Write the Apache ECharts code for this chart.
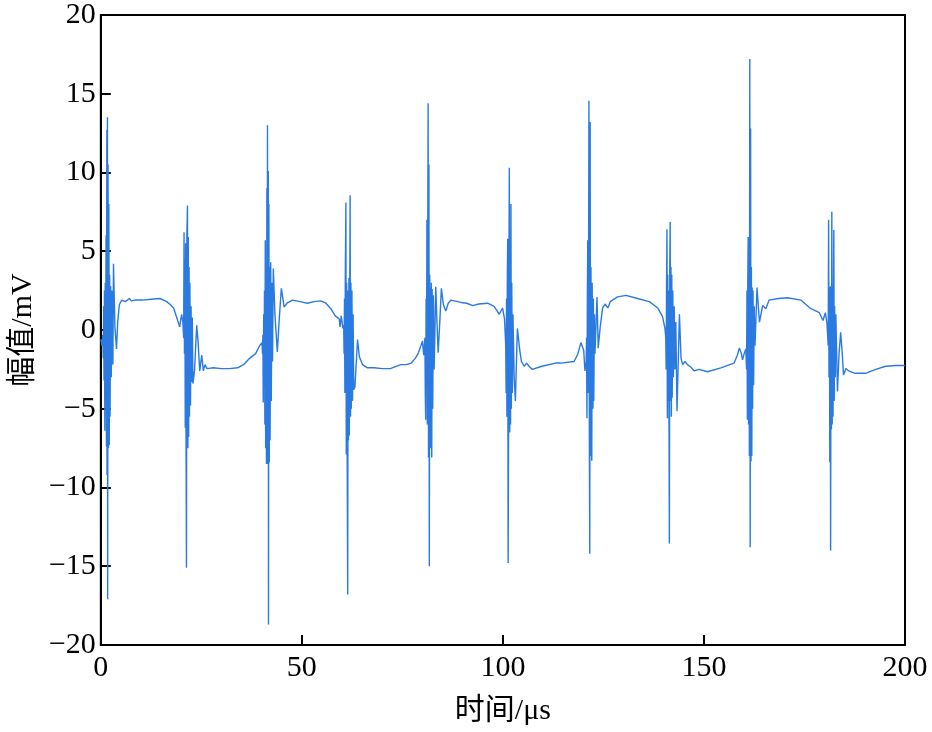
<!DOCTYPE html>
<html><head><meta charset="utf-8">
<script src="https://cdn.jsdelivr.net/npm/echarts@6/dist/echarts.min.js"></script>
<style>html,body{margin:0;padding:0;background:#fff}#c{width:932px;height:732px}</style>
</head><body><div id="c"></div>
<script>
// Axis ticks
const xTicks = [0, 50, 100, 150, 200];
const yTicks = [-20, -15, -10, -5, 0, 5, 10, 15, 20];
const xName = '时间/μs';
const yName = '幅值/mV';

// Waveform segments: [time µs, amplitude mV]
const seg01 = [[0,-0.6],[0.3,-1.0],[0.5,-0.3],[0.6,-1.8],[0.7,1.5],[0.8,-3.2],[0.9,2.5],[1.0,-6.4],[1.1,3.0],[1.2,-4.5],[1.3,6.0],[1.4,-7.4],[1.5,12.7],[1.55,-9.2],[1.65,13.5],[1.7,-17.1],[1.8,10.5],[1.9,-7.5],[2.0,8.0],[2.1,-7.3],[2.2,3.5],[2.3,-5.5],[2.45,2.8],[2.6,-3.0],[2.75,2.5],[2.9,-1.5],[3.0,-2.2],[3.15,4.2],[3.35,2.0],[3.5,0.2],[3.9,-1.2],[4.2,0.5],[4.6,1.6],[5.2,1.9],[6.1,1.8],[7.1,2.0],[7.6,1.85],[8.5,1.9],[10.4,1.9],[12.5,1.95],[14.7,2.0],[16.4,1.8],[17.3,1.6],[18.1,1.4],[19.0,0.7],[19.6,0.2],[20.1,1.0],[20.4,0.5]];
const seg02 = [[20.6,-0.5],[20.7,6.2],[20.8,-1.5],[20.9,4.5],[21.0,-6.2],[21.1,5.5],[21.2,-7.0],[21.3,-15.1],[21.4,6.0],[21.55,7.9],[21.65,-7.5],[21.75,5.9],[21.85,-6.8],[21.95,4.0],[22.05,-5.5],[22.15,3.0],[22.3,-4.8],[22.45,1.5],[22.6,-3.3],[22.75,0.8],[22.9,-3.4],[23.3,-2.6],[23.85,0.3],[24.2,-0.8],[24.6,-2.6],[25.1,-1.6],[25.5,-2.6],[25.9,-2.2],[26.4,-2.45],[28,-2.4],[30,-2.45],[32,-2.45],[34,-2.4],[35.5,-2.2],[37,-1.8],[38.5,-1.5],[39.5,-1.0],[40.1,-0.8]];
const seg03 = [[40.2,-1.5],[40.3,-0.3],[40.4,-4.6],[40.5,1.0],[40.6,-2.5],[40.7,2.5],[40.8,-6.0],[40.9,5.7],[41.0,-7.5],[41.1,3.0],[41.2,-8.5],[41.3,9.0],[41.4,-6.0],[41.45,13.0],[41.55,-8.5],[41.65,10.1],[41.7,-18.7],[41.8,8.0],[41.9,-8.4],[42.0,4.0],[42.1,-7.0],[42.25,4.3],[42.4,-4.5],[42.55,3.0],[42.7,-2.0],[42.9,3.9],[43.3,1.0],[43.9,-1.4],[44.4,0.8],[44.9,2.65],[45.6,1.45],[46.3,1.7],[47.7,1.9],[49.5,1.8],[51.4,1.7],[53,1.8],[54.7,1.85],[56,1.7],[57.2,1.35],[58.3,0.9],[59.3,0.7],[59.5,0.2],[59.8,0.9],[60.2,0.1],[60.4,0.3]];
const seg04 = [[60.5,-1.5],[60.6,2.0],[60.7,-4.0],[60.8,3.3],[60.95,8.1],[61.05,-7.9],[61.15,3.0],[61.25,-6.5],[61.4,-16.8],[61.5,2.5],[61.6,-7.0],[61.7,3.3],[61.8,-6.7],[61.9,2.0],[62.0,8.55],[62.1,-5.5],[62.2,3.0],[62.3,-5.0],[62.45,2.5],[62.6,-4.5],[62.75,1.0],[62.9,-3.8],[63.2,-3.6],[63.85,-0.6],[64.3,-1.7],[65.1,-2.2],[66.3,-2.4],[68,-2.4],[70,-2.45],[72,-2.45],[74.6,-2.2],[76,-2.2],[77.2,-2.1],[78.2,-1.8],[78.9,-1.5],[79.6,-1.0],[80.0,-0.7],[80.3,-1.6]];
const seg05 = [[80.6,-0.5],[80.7,-4.2],[80.8,-5.7],[80.9,2.0],[81.0,-3.0],[81.1,7.0],[81.2,-6.0],[81.3,5.0],[81.4,14.4],[81.5,-8.1],[81.6,10.5],[81.7,-15.0],[81.8,3.5],[81.9,-7.0],[82.0,2.7],[82.1,-7.5],[82.2,3.0],[82.3,-8.1],[82.4,2.6],[82.55,-5.0],[82.7,2.2],[82.9,-2.5],[83.3,2.75],[83.6,0.5],[83.9,-1.45],[84.3,0.5],[84.7,2.65],[85.2,1.6],[85.8,1.2],[86.4,1.7],[87.1,1.9],[89.6,1.75],[91,1.7],[92.5,1.55],[94,1.65],[96.2,1.7],[97.8,1.5],[99.1,1.0],[99.9,1.4],[100.4,0.7]];
const seg06 = [[100.7,-1.0],[100.8,-4.0],[100.9,2.0],[101.0,-5.5],[101.1,3.5],[101.2,5.8],[101.3,-14.8],[101.4,-7.0],[101.5,4.0],[101.6,10.3],[101.7,-6.5],[101.8,4.5],[101.9,-6.0],[102.0,8.0],[102.1,-5.0],[102.2,3.0],[102.35,-4.0],[102.5,1.0],[102.8,-3.0],[103.1,-4.5],[103.6,0.1],[103.9,0.1],[104.2,-1.3],[104.6,-2.0],[105.3,-2.3],[105.9,-2.1],[106.5,-2.3],[107.3,-2.5],[109.7,-2.3],[113.1,-2.1],[114.4,-2.1],[117.7,-2.0],[118.6,-1.55],[119.4,-0.8],[120.1,-1.3],[120.4,-2.6]];
const seg07 = [[120.7,-2.0],[120.8,-0.5],[120.9,-5.6],[121.0,2.0],[121.1,5.7],[121.2,-4.0],[121.3,3.0],[121.4,14.55],[121.5,-7.0],[121.6,-14.2],[121.7,13.2],[121.8,-8.0],[121.9,4.0],[122.0,-6.5],[122.1,-8.3],[122.2,3.0],[122.3,3.1],[122.4,-5.0],[122.5,2.0],[122.6,-4.5],[122.75,1.0],[122.9,-1.5],[123.4,2.1],[123.7,-1.15],[124.2,0.2],[124.8,1.4],[125.4,1.65],[126.1,1.4],[126.7,1.8],[128.5,2.1],[130.6,2.2],[133.5,2.0],[136.4,1.8],[138.5,1.4],[139.7,0.85],[140.3,0.1]];
const seg08 = [[140.5,-0.5],[140.6,-2.5],[140.7,3.0],[140.8,6.4],[140.9,-5.6],[141.0,3.5],[141.1,-4.5],[141.2,2.5],[141.3,-5.0],[141.4,-13.55],[141.5,4.0],[141.6,6.85],[141.7,-4.5],[141.8,4.0],[141.9,-5.5],[142.0,3.5],[142.1,-4.3],[142.25,2.5],[142.4,-3.0],[142.6,1.5],[142.8,-2.5],[143.0,0.5],[143.3,-5.15],[143.9,1.0],[144.3,-1.8],[144.7,-2.2],[145.3,-2.0],[145.9,-2.2],[146.7,-2.35],[147.6,-2.6],[148.8,-2.5],[150.9,-2.65],[154.2,-2.4],[157.5,-2.1],[158.3,-1.6],[158.8,-1.15],[159.3,-1.5],[159.6,-1.9],[160.0,-1.5]];
const seg09 = [[160.4,-1.2],[160.6,-2.5],[160.7,2.5],[160.8,-5.7],[160.9,3.0],[161.0,5.9],[161.1,-6.0],[161.2,2.7],[161.3,-8.0],[161.4,17.2],[161.5,-13.8],[161.6,12.8],[161.7,-8.35],[161.8,4.0],[161.9,-8.0],[162.0,2.7],[162.1,-5.0],[162.2,2.5],[162.35,-3.5],[162.5,1.5],[162.7,-1.0],[163.2,2.7],[163.8,0.5],[164.6,1.55],[165.4,1.35],[166.2,1.9],[168.5,2.0],[170.8,2.05],[174.1,1.9],[176.6,1.35],[178.7,1.1],[179.6,0.6],[180.2,1.1],[180.6,0.4]];
const seg10 = [[180.8,0.5],[180.9,-1.0],[181.0,7.0],[181.1,-3.0],[181.2,2.5],[181.3,-8.4],[181.4,2.75],[181.5,-14.0],[181.6,2.8],[181.7,-6.3],[181.8,7.5],[181.9,-6.0],[182.0,2.75],[182.1,-5.5],[182.2,2.5],[182.3,6.35],[182.4,-4.5],[182.5,1.5],[182.65,-3.0],[182.8,1.0],[183.2,-3.9],[183.6,-1.5],[184.0,-0.15],[184.4,-1.5],[184.7,-2.85],[185.3,-2.45],[186.0,-2.6],[187.6,-2.75],[190.2,-2.75],[192.7,-2.5],[195.2,-2.3],[197.8,-2.25],[200,-2.25]];

const waveform = [].concat(seg01, seg02, seg03, seg04, seg05, seg06, seg07, seg08, seg09, seg10);

const FONT = '"Liberation Serif", "Noto Sans CJK SC", serif';
const chart = echarts.init(document.getElementById('c'), null, {renderer: 'canvas'});
chart.setOption({
  animation: false,
  backgroundColor: '#fff',
  grid: {left: 100, right: 27, top: 12, bottom: 87, show: true, borderColor: '#000', borderWidth: 2, backgroundColor: 'transparent'},
  xAxis: {
    type: 'value', min: xTicks[0], max: xTicks[xTicks.length - 1], interval: 50,
    name: xName, nameLocation: 'middle', nameGap: 51,
    nameTextStyle: {fontFamily: FONT, fontSize: 30, color: '#000'},
    axisLine: {show: true, onZero: false, lineStyle: {color: '#000', width: 2}},
    axisTick: {show: true, inside: true, length: 10, lineStyle: {color: '#000', width: 2}},
    axisLabel: {fontFamily: FONT, fontSize: 30, color: '#000', margin: 8},
    splitLine: {show: false}
  },
  yAxis: {
    type: 'value', min: yTicks[0], max: yTicks[yTicks.length - 1], interval: 5,
    name: yName, nameLocation: 'middle', nameGap: 61, nameRotate: 90,
    nameTextStyle: {fontFamily: FONT, fontSize: 30, color: '#000'},
    axisLine: {show: true, onZero: false, lineStyle: {color: '#000', width: 2}},
    axisTick: {show: true, inside: true, length: 10, lineStyle: {color: '#000', width: 2}},
    axisLabel: {fontFamily: FONT, fontSize: 30, color: '#000', margin: 5,
      formatter: v => String(v).replace('-', '\u2212')},
    splitLine: {show: false}
  },
  series: [{
    type: 'line', data: waveform, showSymbol: false, symbol: 'none',
    sampling: null, smooth: false,
    lineStyle: {color: '#2a7ae2', width: 1.4}
  }]
});
</script></body></html>
